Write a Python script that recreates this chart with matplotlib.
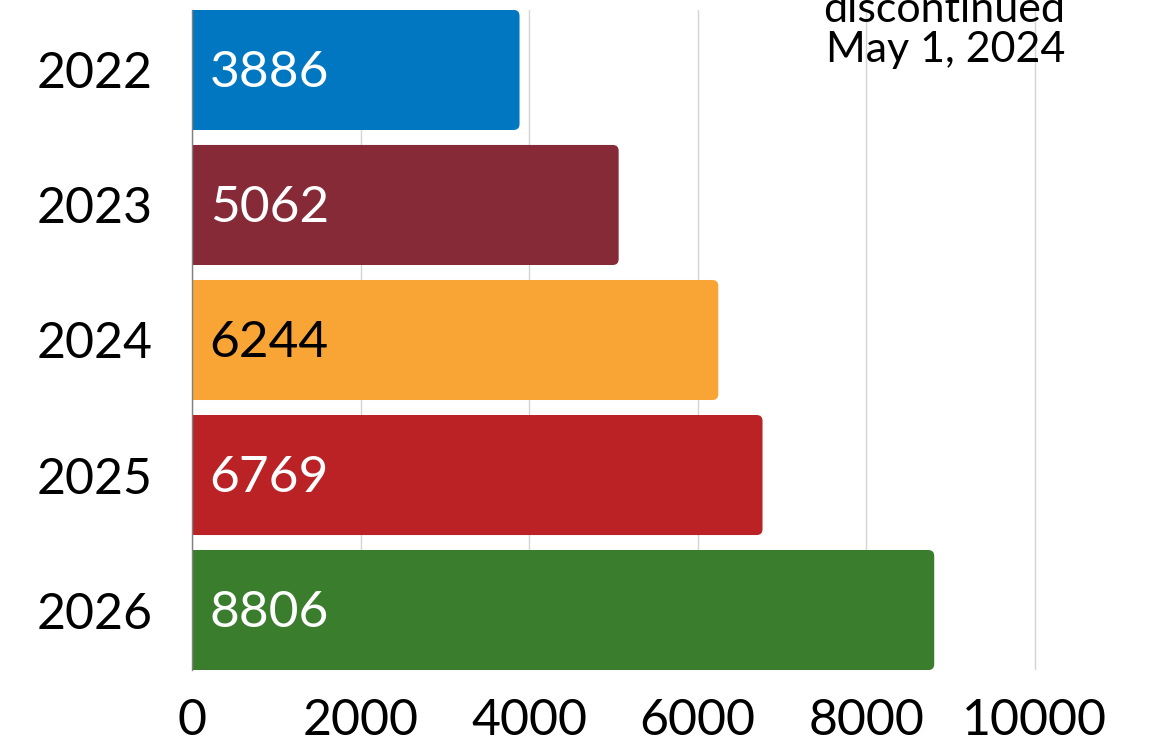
import matplotlib
matplotlib.use("Agg")
import matplotlib.pyplot as plt
from matplotlib.patches import FancyBboxPatch

# values
years = ["2022", "2023", "2024", "2025", "2026"]
values = [3886, 5062, 6244, 6769, 8806]
colors = ["#0077C0", "#862A38", "#F9A535", "#BB2226", "#3A7D2D"]
label_colors = ["white", "white", "black", "white", "white"]

plt.rcParams["font.family"] = ["Lato", "DejaVu Sans"]

fig = plt.figure(figsize=(11.57, 7.46), dpi=100)
W, H = 1157, 746
ax = fig.add_axes([192 / W, 1 - 670 / H, (1077 - 192) / W, 660 / H])

ypos = list(range(len(years)))
h = 0.889
r = 70  # rounding in data units along x

# square left part, rounded right end
ax.barh(ypos, [v - r for v in values], height=h, color=colors, zorder=2)
for y, v, c, lc in zip(ypos, values, colors, label_colors):
    p = FancyBboxPatch((0, y - h / 2), v, h,
                       boxstyle="round,pad=0,rounding_size=70",
                       mutation_aspect=0.044 / 70,
                       facecolor=c, edgecolor="none", zorder=2)
    ax.add_patch(p)
    ax.text(210, y + 0.02, str(v), ha="left", va="center", fontsize=37,
            color=lc, zorder=3)

ax.set_ylim(4.444, -0.444)
ax.set_xlim(0, 10500)
ax.set_yticks(ypos)
ax.set_yticklabels(years)
ax.set_xticks([0, 2000, 4000, 6000, 8000, 10000])
ax.tick_params(axis="both", length=0, labelsize=36)
ax.tick_params(axis="y", pad=28)
ax.tick_params(axis="x", pad=20)
ax.grid(axis="x", color="#d4d4d4", linewidth=1, zorder=0)
ax.set_axisbelow(True)
for s in ["top", "right", "bottom"]:
    ax.spines[s].set_visible(False)
ax.spines["left"].set_color("#808080")
ax.spines["left"].set_linewidth(1)

fig.text(1065 / W, 1 - 62 / H, "discontinued\nMay 1, 2024", ha="right",
         va="baseline", fontsize=31, linespacing=1.05)

fig.savefig("out.png", dpi=100)
